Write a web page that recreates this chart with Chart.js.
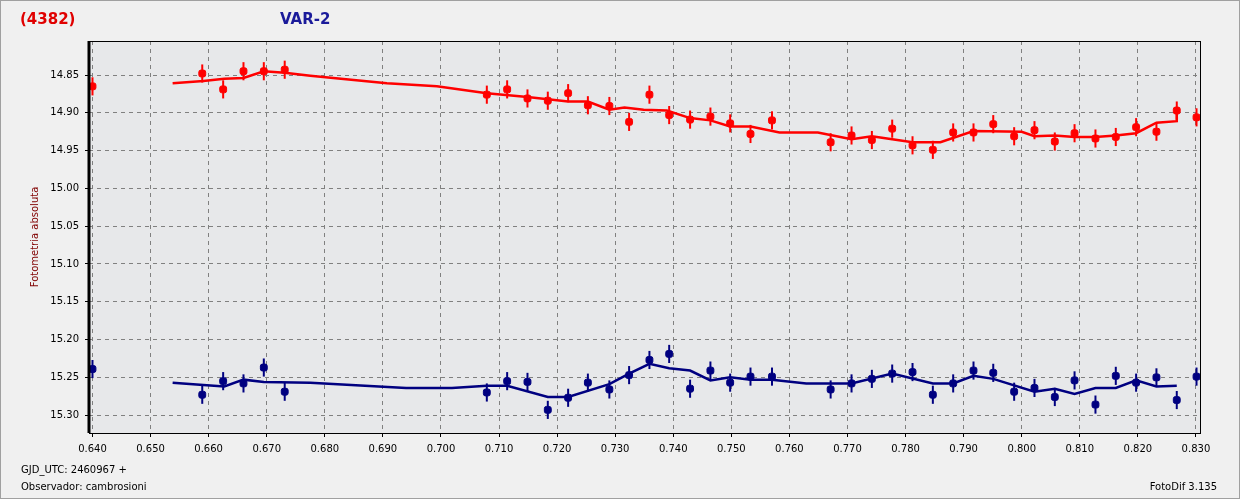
<!DOCTYPE html>
<html><head><meta charset="utf-8">
<script src="https://cdn.jsdelivr.net/npm/chart.js@4"></script>
<style>
html,body{margin:0;padding:0;background:#f0f0f0;}
#wrap{position:relative;width:1240px;height:499px;box-sizing:border-box;border:1px solid #a0a0a0;background:#f0f0f0;font-family:"DejaVu Sans",sans-serif;}
canvas{position:absolute;left:0;top:0;}
.t{position:absolute;white-space:nowrap;}
</style></head><body>
<div id="wrap">
<canvas id="c" width="1240" height="499"></canvas>
<div class="t" style="left:19px;top:9px;color:#e00000;font-weight:bold;font-size:15px;">(4382)</div>
<div class="t" style="left:279px;top:9px;color:#1a1a9a;font-weight:bold;font-size:15px;">VAR-2</div>
<div class="t" style="left:20px;top:463px;font-size:10px;color:#000;">GJD_UTC: 2460967 +</div>
<div class="t" style="left:20px;top:480px;font-size:10px;color:#000;">Observador: cambrosioni</div>
<div class="t" style="right:22px;top:480px;font-size:10px;color:#000;">FotoDif 3.135</div>
</div>
<script>
const xPts = [0.6400,0.6589,0.6625,0.6660,0.6695,0.6731,0.7079,0.7114,0.7149,0.7184,0.7219,0.7253,0.7290,0.7324,0.7359,0.7393,0.7429,0.7464,0.7498,0.7533,0.7570,0.7671,0.7707,0.7742,0.7777,0.7812,0.7847,0.7882,0.7917,0.7951,0.7987,0.8022,0.8057,0.8091,0.8127,0.8162,0.8197,0.8232,0.8267,0.8301];
const redVals = [14.865,14.848,14.869,14.845,14.845,14.843,14.876,14.869,14.881,14.884,14.874,14.890,14.891,14.912,14.876,14.903,14.909,14.905,14.914,14.928,14.910,14.939,14.930,14.936,14.921,14.943,14.949,14.926,14.926,14.915,14.931,14.923,14.938,14.927,14.934,14.932,14.919,14.925,14.897,14.906];
const blueVals = [15.239,15.273,15.255,15.258,15.237,15.269,15.270,15.255,15.256,15.293,15.277,15.257,15.266,15.247,15.227,15.219,15.265,15.241,15.257,15.249,15.249,15.266,15.258,15.252,15.245,15.243,15.273,15.258,15.241,15.244,15.269,15.264,15.276,15.254,15.286,15.248,15.257,15.250,15.280,15.249];
const errMag = 0.012;
const redFitX = [0.6538,0.6591,0.6627,0.6660,0.6695,0.6731,0.6775,0.6907,0.6993,0.7079,0.7149,0.7219,0.7253,0.7290,0.7316,0.7349,0.7389,0.7429,0.7464,0.7498,0.7533,0.7583,0.7649,0.7707,0.7742,0.7777,0.7812,0.7860,0.7917,0.8000,0.8022,0.8057,0.8091,0.8127,0.8162,0.8197,0.8232,0.8267,0.8267];
const redFitY = [14.861,14.858,14.855,14.854,14.845,14.847,14.851,14.861,14.865,14.874,14.879,14.885,14.885,14.896,14.893,14.896,14.897,14.907,14.910,14.918,14.918,14.926,14.926,14.935,14.931,14.935,14.939,14.939,14.924,14.925,14.931,14.930,14.932,14.932,14.930,14.927,14.913,14.911,14.897];
const blueFitX = [0.6538,0.6591,0.6627,0.6660,0.6695,0.6775,0.6940,0.7019,0.7079,0.7114,0.7184,0.7219,0.7290,0.7324,0.7359,0.7393,0.7429,0.7464,0.7498,0.7533,0.7570,0.7629,0.7707,0.7777,0.7847,0.7882,0.7917,0.7951,0.8022,0.8057,0.8091,0.8127,0.8162,0.8197,0.8232,0.8267];
const blueFitY = [15.257,15.260,15.262,15.253,15.256,15.257,15.264,15.264,15.261,15.261,15.276,15.276,15.259,15.245,15.232,15.238,15.241,15.254,15.250,15.253,15.253,15.258,15.258,15.245,15.258,15.258,15.248,15.252,15.269,15.265,15.272,15.264,15.264,15.254,15.262,15.261];
const xTicks = [0.640,0.650,0.660,0.670,0.680,0.690,0.700,0.710,0.720,0.730,0.740,0.750,0.760,0.770,0.780,0.790,0.800,0.810,0.820,0.830];
const yTicks = [14.85,14.90,14.95,15.00,15.05,15.10,15.15,15.20,15.25,15.30];

const RED='#ff0000', BLUE='#000080';
const pts=(xs,ys)=>xs.map((x,i)=>({x:x,y:ys[i]}));

const deco={id:'deco',
 beforeDraw(ch){const a=ch.chartArea,c=ch.ctx;c.save();c.fillStyle='#e7e8ea';c.fillRect(a.left,a.top,a.right-a.left,a.bottom-a.top);c.restore();},
 afterDatasetsDraw(ch){const c=ch.ctx,y=ch.scales.y,x=ch.scales.x;c.save();
  [[redVals,RED],[blueVals,BLUE]].forEach(([v,col])=>{c.strokeStyle=col;c.lineWidth=2;
   v.forEach((val,i)=>{const px=x.getPixelForValue(xPts[i]);c.beginPath();c.moveTo(px,y.getPixelForValue(val-errMag));c.lineTo(px,y.getPixelForValue(val+errMag));c.stroke();});});
  const a=ch.chartArea;c.strokeStyle='#000';c.lineWidth=1;c.strokeRect(a.left+0.5,a.top+0.5,a.right-a.left,a.bottom-a.top);
  c.lineWidth=3;c.beginPath();c.moveTo(a.left,a.top);c.lineTo(a.left,a.bottom);c.stroke();c.restore();}};

new Chart(document.getElementById('c'),{
 type:'scatter',
 data:{datasets:[
  {data:pts(redFitX,redFitY),showLine:true,borderColor:RED,borderWidth:2.5,pointRadius:0,tension:0},
  {data:pts(blueFitX,blueFitY),showLine:true,borderColor:BLUE,borderWidth:2.5,pointRadius:0,tension:0},
  {data:pts(xPts,redVals),showLine:false,backgroundColor:RED,borderColor:RED,pointRadius:4,pointStyle:'rectRounded'},
  {data:pts(xPts,blueVals),showLine:false,backgroundColor:BLUE,borderColor:BLUE,pointRadius:4,pointStyle:'rectRounded'}
 ]},
 options:{responsive:false,animation:false,devicePixelRatio:1,
  layout:{padding:{top:40,right:41,left:0,bottom:0}},
  plugins:{legend:{display:false},tooltip:{enabled:false}},
  scales:{
   x:{type:'linear',min:0.6394,max:0.8307,
    afterFit(s){s.height=67;},
    afterBuildTicks(s){s.ticks=xTicks.map(v=>({value:v}));},
    ticks:{color:'#000',font:{size:10,family:'DejaVu Sans'},maxRotation:0,autoSkip:false,padding:6,callback:v=>v.toFixed(3)},
    grid:{color:'#808080',lineWidth:1,drawTicks:true,tickLength:4,tickColor:'#000'},border:{display:false,dash:[4,4]}},
   y:{type:'linear',reverse:true,min:14.805,max:15.3236,
    afterFit(s){s.width=88;},
    afterBuildTicks(s){s.ticks=yTicks.map(v=>({value:v}));},
    ticks:{color:'#000',font:{size:10,family:'DejaVu Sans'},padding:6,callback:v=>v.toFixed(2)},
    title:{display:true,text:'Fotometria absoluta',color:'#800000',font:{size:10,family:'DejaVu Sans'},padding:{top:28,bottom:0}},
    grid:{color:'#808080',lineWidth:1,tickLength:4,tickColor:'#000'},border:{display:false,dash:[4,4]}}
  }},
 plugins:[deco]
});
</script>
</body></html>
